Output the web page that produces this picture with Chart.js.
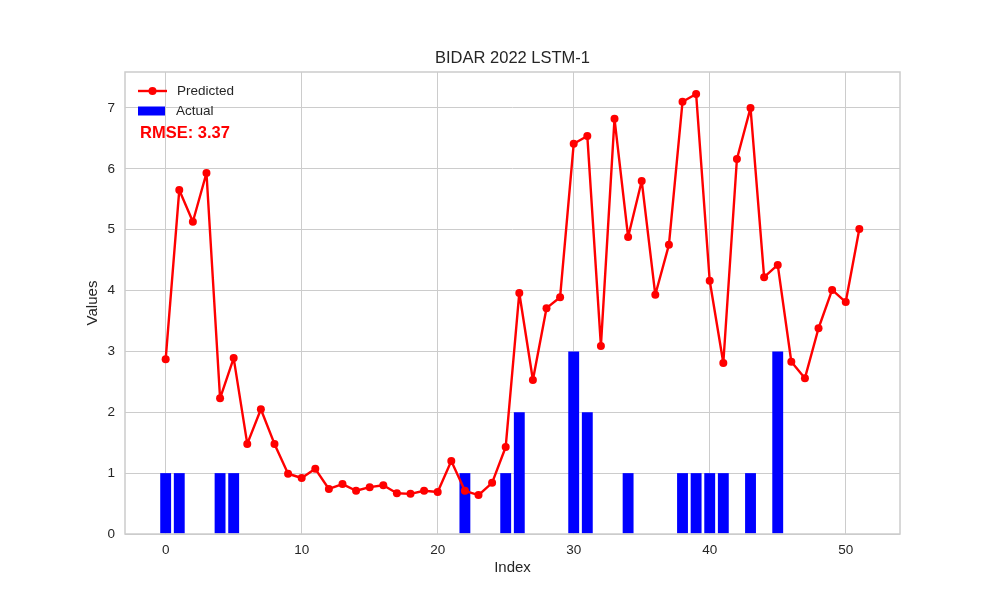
<!DOCTYPE html>
<html>
<head>
<meta charset="utf-8">
<title>BIDAR 2022 LSTM-1</title>
<script src="https://cdn.jsdelivr.net/npm/chart.js@4.4.1/dist/chart.umd.min.js"></script>
<style>
    html, body { margin: 0; padding: 0; background: #ffffff; }
    #chart { display: block; }
</style>
</head>
<body>
<canvas id="chart" width="1000" height="600"></canvas>
<script>
// Chart data
const indices = [0, 1, 2, 3, 4, 5, 6, 7, 8, 9, 10, 11, 12, 13, 14, 15, 16, 17, 18, 19,
    20, 21, 22, 23, 24, 25, 26, 27, 28, 29, 30, 31, 32, 33, 34, 35, 36, 37, 38, 39,
    40, 41, 42, 43, 44, 45, 46, 47, 48, 49, 50, 51];

const predicted = [2.87, 5.65, 5.13, 5.93, 2.23, 2.89, 1.48, 2.05, 1.48, 0.99,
    0.92, 1.07, 0.74, 0.82, 0.71, 0.77, 0.80, 0.67, 0.66, 0.71,
    0.69, 1.20, 0.71, 0.64, 0.84, 1.43, 3.96, 2.53, 3.71, 3.89,
    6.41, 6.54, 3.09, 6.82, 4.88, 5.80, 3.93, 4.75, 7.10, 7.23,
    4.16, 2.81, 6.16, 7.00, 4.22, 4.42, 2.83, 2.56, 3.38, 4.01,
    3.81, 5.01];

const actual = [1, 1, 0, 0, 1, 1, 0, 0, 0, 0,
    0, 0, 0, 0, 0, 0, 0, 0, 0, 0,
    0, 0, 1, 0, 0, 1, 2, 0, 0, 0,
    3, 2, 0, 0, 1, 0, 0, 0, 1, 1,
    1, 1, 0, 1, 0, 3, 0, 0, 0, 0,
    0, 0];

const xTicks = [0, 10, 20, 30, 40, 50];
const yTicks = [0, 1, 2, 3, 4, 5, 6, 7];
const chartTitle = 'BIDAR 2022 LSTM-1';
const rmseText = 'RMSE: 3.37';

const FONT = '"Liberation Sans", Arial, sans-serif';
const TEXT_COLOR = '#262626';
const GRID_COLOR = '#cccccc';

// Frame, title, legend and RMSE note drawn inside the plot area
const decorPlugin = {
    id: 'decor',
    afterDatasetsDraw(chart) {
        const { ctx, chartArea: a } = chart;
        ctx.save();
        ctx.strokeStyle = GRID_COLOR;
        ctx.lineWidth = 1.5;
        ctx.strokeRect(a.left, a.top, a.right - a.left, a.bottom - a.top);
        ctx.restore();
    },
    afterDraw(chart) {
        const { ctx, chartArea: a } = chart;
        const line = chart.data.datasets[0];
        const bar = chart.data.datasets[1];
        ctx.save();

        // Title
        ctx.fillStyle = TEXT_COLOR;
        ctx.font = '16.5px ' + FONT;
        ctx.textAlign = 'center';
        ctx.textBaseline = 'middle';
        ctx.fillText(chartTitle, (a.left + a.right) / 2, a.top - 14);

        // Legend: Predicted
        const y1 = a.top + 19;
        ctx.strokeStyle = line.borderColor;
        ctx.lineWidth = line.borderWidth;
        ctx.beginPath();
        ctx.moveTo(a.left + 13, y1);
        ctx.lineTo(a.left + 42, y1);
        ctx.stroke();
        ctx.fillStyle = line.borderColor;
        ctx.beginPath();
        ctx.arc(a.left + 27.5, y1, line.pointRadius, 0, 2 * Math.PI);
        ctx.fill();

        ctx.fillStyle = TEXT_COLOR;
        ctx.font = '13.5px ' + FONT;
        ctx.textAlign = 'left';
        ctx.fillText(line.label, a.left + 52, y1);

        // Legend: Actual
        const y2 = a.top + 39;
        ctx.fillStyle = bar.backgroundColor;
        ctx.fillRect(a.left + 13, y2 - 4.5, 27, 9);
        ctx.fillStyle = TEXT_COLOR;
        ctx.fillText(bar.label, a.left + 51, y2);

        // RMSE note
        ctx.fillStyle = '#ff0000';
        ctx.font = 'bold 16.5px ' + FONT;
        ctx.fillText(rmseText, a.left + 15, a.top + 61);

        ctx.restore();
    }
};

const ctx = document.getElementById('chart').getContext('2d');
const chart = new Chart(ctx, {
    type: 'bar',
    data: {
        datasets: [
            {
                type: 'line',
                label: 'Predicted',
                data: indices.map((x, i) => ({ x: x, y: predicted[i] })),
                borderColor: '#ff0000',
                backgroundColor: '#ff0000',
                borderWidth: 2.4,
                borderJoinStyle: 'round',
                borderCapStyle: 'round',
                pointRadius: 4,
                pointHoverRadius: 4,
                pointBorderWidth: 0,
                pointBackgroundColor: '#ff0000',
                tension: 0,
                order: 0
            },
            {
                type: 'bar',
                label: 'Actual',
                data: indices.map((x, i) => ({ x: x, y: actual[i] })),
                backgroundColor: '#0000ff',
                barPercentage: 0.8,
                categoryPercentage: 1.0,
                order: 1
            }
        ]
    },
    options: {
        responsive: false,
        animation: false,
        devicePixelRatio: 1,
        layout: {
            padding: { left: 80, right: 100, top: 72, bottom: 20 }
        },
        plugins: {
            legend: { display: false },
            title: { display: false },
            tooltip: { enabled: false }
        },
        scales: {
            x: {
                type: 'linear',
                min: -2.99,
                max: 53.99,
                offset: false,
                afterBuildTicks: function(axis) {
                    axis.ticks = xTicks.map(v => ({ value: v }));
                },
                afterFit: function(scale) {
                    scale.height = 46;
                },
                grid: { color: GRID_COLOR, lineWidth: 1, drawTicks: false, offset: false },
                border: { display: false },
                ticks: {
                    padding: 8,
                    color: TEXT_COLOR,
                    font: { family: FONT, size: 13.5 }
                },
                title: {
                    display: true,
                    text: 'Index',
                    color: TEXT_COLOR,
                    font: { family: FONT, size: 15 },
                    padding: { top: 0, bottom: 3 }
                }
            },
            y: {
                type: 'linear',
                min: 0,
                max: 7.59,
                afterBuildTicks: function(axis) {
                    axis.ticks = yTicks.map(v => ({ value: v }));
                },
                afterFit: function(scale) {
                    scale.width = 45;
                },
                grid: { color: GRID_COLOR, lineWidth: 1, drawTicks: false },
                border: { display: false },
                ticks: {
                    padding: 10,
                    color: TEXT_COLOR,
                    font: { family: FONT, size: 13.5 }
                },
                title: {
                    display: true,
                    text: 'Values',
                    color: TEXT_COLOR,
                    font: { family: FONT, size: 15 },
                    padding: { top: 4, bottom: 0 }
                }
            }
        }
    },
    plugins: [decorPlugin]
});
</script>
</body>
</html>
